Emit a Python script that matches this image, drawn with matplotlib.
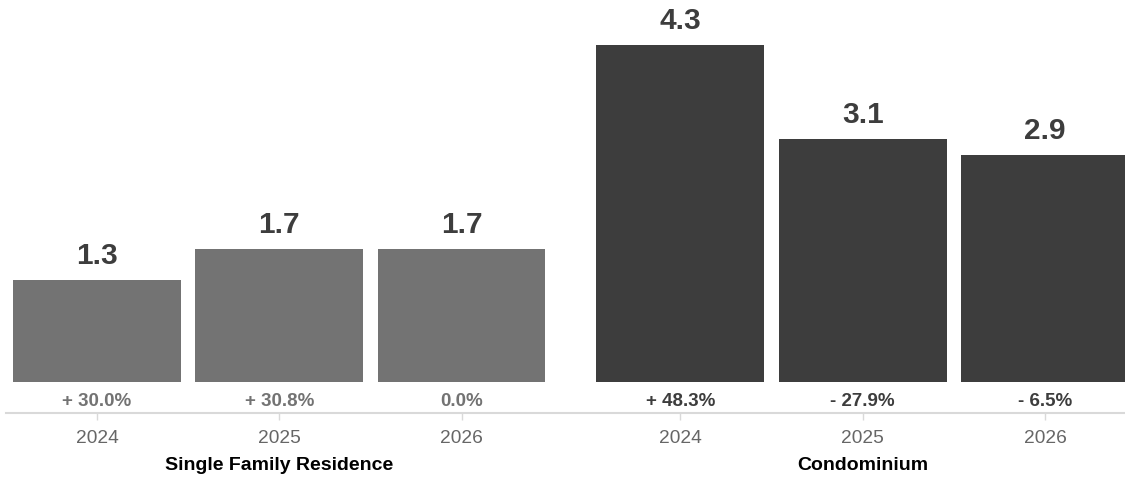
import matplotlib
matplotlib.use("Agg")
import matplotlib.pyplot as plt
import matplotlib.transforms as mtransforms

plt.rcParams['font.family'] = ['Liberation Sans', 'DejaVu Sans']

groups = ["Single Family Residence", "Condominium"]
years = ["2024", "2025", "2026"]
sfr_values = [1.3, 1.7, 1.7]
condo_values = [4.3, 3.1, 2.9]
sfr_changes = ["+ 30.0%", "+ 30.8%", "0.0%"]
condo_changes = ["+ 48.3%", "- 27.9%", "- 6.5%"]

sfr_color = "#737373"
condo_color = "#3d3d3d"

fig = plt.figure(figsize=(11.25, 4.8), dpi=100)
ax = fig.add_axes([0, 67 / 480, 1, 413 / 480])

group_gap = 1.2
sfr_x = [i for i in range(len(years))]
condo_x = [len(years) - 1 + group_gap + i for i in range(len(years))]
width = 0.92

ax.bar(sfr_x, sfr_values, width=width, color=sfr_color)
ax.bar(condo_x, condo_values, width=width, color=condo_color)

ax.set_xlim(-0.532, 5.639)
px = 78.4
ymin = -31 / px
ax.set_ylim(ymin, 413 / px + ymin)

for xs, vals, chs, col in [(sfr_x, sfr_values, sfr_changes, sfr_color),
                           (condo_x, condo_values, condo_changes, condo_color)]:
    for x, v, c in zip(xs, vals, chs):
        ax.annotate(f"{v:.1f}", (x, v), xytext=(0, 7), textcoords="offset points",
                    ha="center", va="bottom", fontsize=21.5, fontweight="bold",
                    color="#3d3d3d")
        ax.text(x, -20 / px, c, ha="center", va="center", fontsize=13.5,
                fontweight="bold", color=col)

ax.set_xticks(sfr_x + condo_x)
ax.set_xticklabels(years + years)
ax.tick_params(axis="x", length=5, width=1, color="#d9d9d9", labelsize=13.8,
               labelcolor="#666666", pad=7)
ax.tick_params(axis="y", left=False, labelleft=False)
for s in ["top", "right", "left"]:
    ax.spines[s].set_visible(False)
ax.spines["bottom"].set_color("#d9d9d9")
ax.spines["bottom"].set_linewidth(1.5)
ax.spines["bottom"].set_bounds(-0.5, 5.639)

trans = mtransforms.blended_transform_factory(ax.transData, fig.transFigure)
ax.text(sum(sfr_x) / 3, 14 / 480, groups[0], transform=trans, ha="center",
        va="center", fontsize=14, fontweight="bold", color="black")
ax.text(sum(condo_x) / 3, 14 / 480, groups[1], transform=trans, ha="center",
        va="center", fontsize=14, fontweight="bold", color="black")

fig.savefig("out.png", dpi=100)
